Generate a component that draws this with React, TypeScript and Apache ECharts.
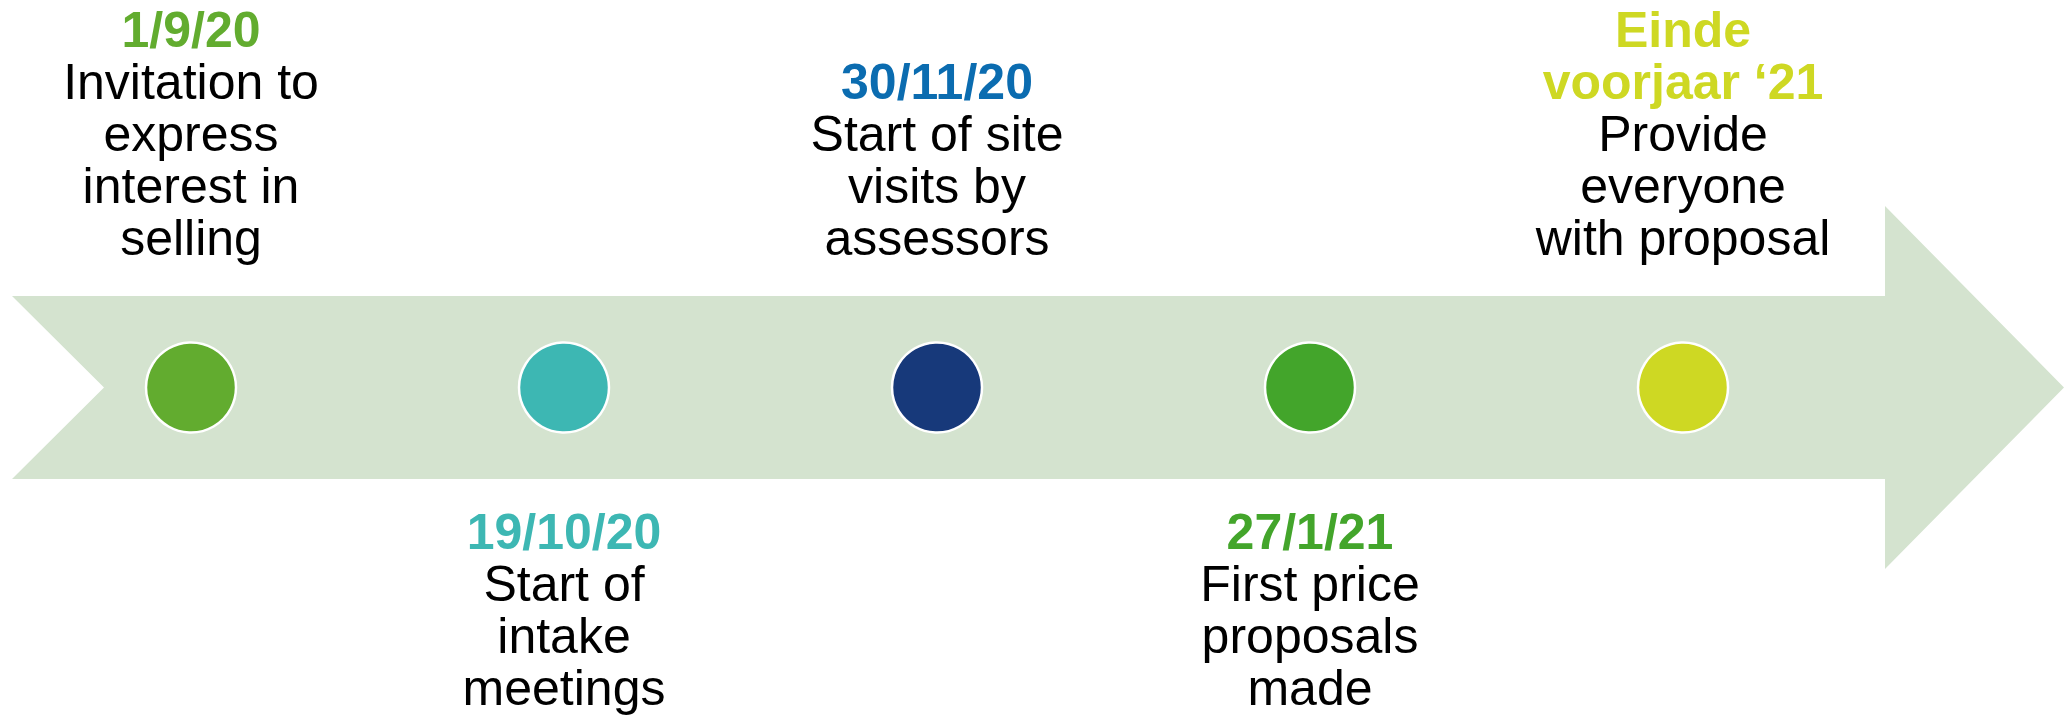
import React, { useEffect, useRef } from "react";
import * as echarts from "echarts";

// ---- data ----
const categories = ["m1", "m2", "m3", "m4", "m5"];
const dateLines: string[][] = [
  ["1/9/20"],
  ["19/10/20"],
  ["30/11/20"],
  ["27/1/21"],
  ["Einde", "voorjaar \u201821"],
];
const descriptions: string[][] = [
  ["Invitation to", "express", "interest in", "selling"],
  ["Start of", "intake", "meetings"],
  ["Start of site", "visits by", "assessors"],
  ["First price", "proposals", "made"],
  ["Provide", "everyone", "with proposal"],
];
const sides = ["top", "bottom", "top", "bottom", "top"];
const levels = [50, 50, 50, 50, 50];
const circleColors = ["#62AC2F", "#3DB7B3", "#17397A", "#43A52B", "#CED823"];
const dateColors = ["#62AC2F", "#3DB7B3", "#0B6CB0", "#43A52B", "#CED823"];

const FONT = "'Liberation Sans', Arial, sans-serif";

export default function App() {
  const ref = useRef<HTMLDivElement>(null);
  useEffect(() => {
    document.body.style.margin = "0";
    if (!ref.current) return;
    const chart = echarts.init(ref.current, null, { renderer: "svg" });

    const data = categories.map((c, i) => {
      const lines = [
        ...dateLines[i].map((l) => `{d|${l}}`),
        ...descriptions[i].map((l) => `{t|${l}}`),
      ];
      const top = sides[i] === "top";
      return {
        value: [c, levels[i]],
        itemStyle: { color: circleColors[i] },
        label: {
          show: true,
          position: top ? "top" : "bottom",
          distance: top ? 77.5 : 72.2,
          formatter: lines.join("\n"),
          align: "center",
          rich: {
            d: {
              color: dateColors[i],
              fontWeight: "bold",
              fontSize: 50,
              lineHeight: 52,
              fontFamily: FONT,
              align: "center",
            },
            t: {
              color: "#000000",
              fontSize: 50,
              lineHeight: 52,
              fontFamily: FONT,
              align: "center",
            },
          },
        },
      };
    });

    chart.setOption({
      animation: false,
      backgroundColor: "#ffffff",
      grid: {
        left: 4.5,
        right: 194.5,
        top: 58,
        bottom: 0,
        outerBoundsMode: "none",
      },
      xAxis: { type: "category", data: categories, show: false },
      yAxis: { type: "value", min: 0, max: 100, show: false },
      graphic: [
        {
          type: "polygon",
          z: -10,
          silent: true,
          shape: {
            points: [
              [12, 296],
              [1885, 296],
              [1885, 206],
              [2064, 387.5],
              [1885, 569],
              [1885, 479],
              [12, 479],
              [104, 387.5],
            ],
          },
          style: { fill: "#D4E3CF" },
        },
      ],
      series: [
        {
          type: "scatter",
          symbol: "circle",
          symbolSize: 90,
          clip: false,
          z: 5,
          itemStyle: { borderColor: "#ffffff", borderWidth: 2.5, opacity: 1 },
          emphasis: { disabled: true },
          data,
        },
      ],
    });
    return () => chart.dispose();
  }, []);
  return <div ref={ref} style={{ width: 2064, height: 717 }} />;
}
